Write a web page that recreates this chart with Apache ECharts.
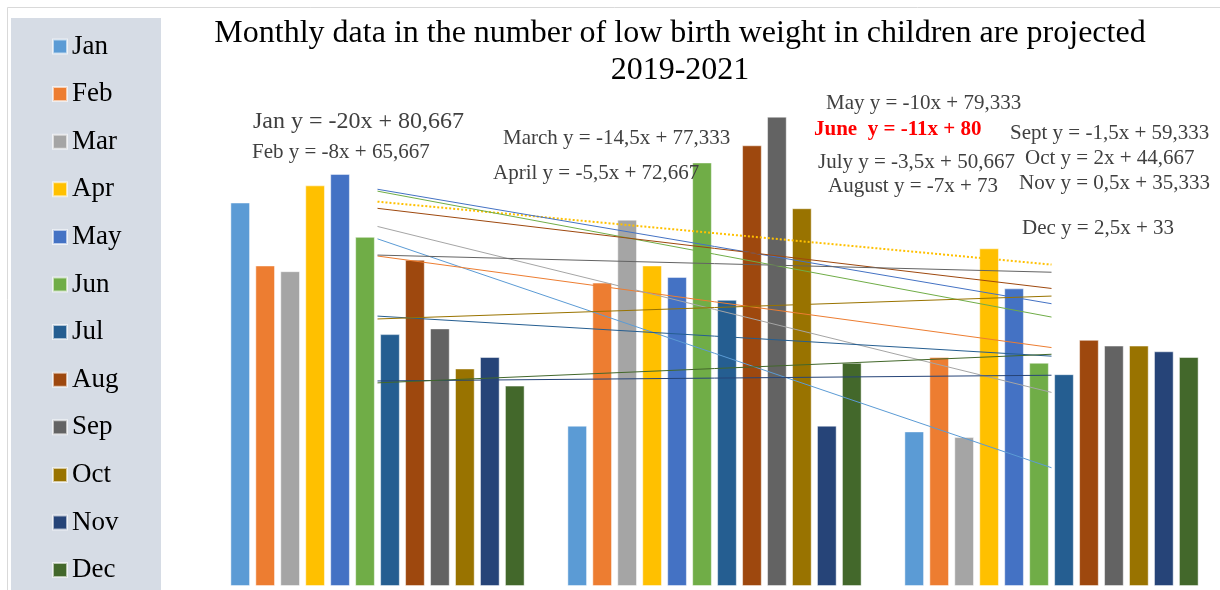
<!DOCTYPE html>
<html>
<head>
<meta charset="utf-8">
<script src="https://cdn.jsdelivr.net/npm/echarts@6/dist/echarts.min.js"></script>
<style>
html,body{margin:0;padding:0;background:#fff;}
#chart{width:1220px;height:590px;}
</style>
</head>
<body>
<div id="chart"></div>
<script>
const years = ['2019', '2020', '2021'];
const months = ['Jan','Feb','Mar','Apr','May','Jun','Jul','Aug','Sep','Oct','Nov','Dec'];
const colors = ['#5B9BD5','#ED7D31','#A5A5A5','#FFC000','#4472C4','#70AD47','#255E91','#9E480E','#636363','#997300','#264478','#43682B'];
// values per month for 2019, 2020, 2021
const janVals = [67, 28, 27];
const febVals = [56, 53, 40];
const marVals = [55, 64, 26];
const aprVals = [70, 56, 59];
const mayVals = [72, 54, 52];
const junVals = [61, 74, 39];
const julVals = [44, 50, 37];
const augVals = [57, 77, 43];
const sepVals = [45, 82, 42];
const octVals = [38, 66, 42];
const novVals = [40, 28, 41];
const decVals = [35, 39, 40];
const monthValues = [janVals, febVals, marVals, aprVals, mayVals, junVals, julVals, augVals, sepVals, octVals, novVals, decVals];
// trend line coefficients shown on the chart (y = slope*x + intercept)
const slopes = [-20, -8, -14.5, -5.5, -10, -11, -3.5, -7, -1.5, 2, 0.5, 2.5];
const intercepts = [80.667, 65.667, 77.333, 72.667, 79.333, 80, 50.667, 73, 59.333, 44.667, 35.333, 33];
const equationLabels = [
  'Jan y = -20x + 80,667', 'Feb y = -8x + 65,667', 'March y = -14,5x + 77,333', 'April y = -5,5x + 72,667',
  'May y = -10x + 79,333', 'June  y = -11x + 80', 'July y = -3,5x + 50,667', 'August y = -7x + 73',
  'Sept y = -1,5x + 59,333', 'Oct y = 2x + 44,667', 'Nov y = 0,5x + 35,333', 'Dec y = 2,5x + 33'
];
const titleLines = ['Monthly data in the number of low birth weight in children are projected', '2019-2021'];

const labelPos = [
  [253,122,24],[252,152,21],[503,138,21],[493,173,21],[826,103,21],[814,130,21],
  [818,162,21],[828,186,21],[1010,133,21],[1025,158,21],[1019,183,21],[1022,228,21]
];

const series = [];
months.forEach((m, i) => {
  series.push({
    name: m, type: 'bar', data: monthValues[i], barWidth: 19.5, barGap: '28%',
    itemStyle: { color: colors[i], borderColor: 'rgba(255,255,255,0.6)', borderWidth: 0.8 },
    silent: true
  });
});
months.forEach((m, i) => {
  const trend = years.map((y, k) => slopes[i] * (k + 1) + intercepts[i]);
  series.push({
    name: m + ' trend', type: 'line', data: trend, symbol: 'none', silent: true, z: 5,
    lineStyle: { color: colors[i], width: i === 3 ? 2 : 1, type: i === 3 ? 'dotted' : 'solid' }
  });
});

const graphics = [
  { type: 'rect', z: -10, shape: { x: 7.5, y: 7.5, width: 1230, height: 600 }, style: { fill: '#fff', stroke: '#D9D9D9', lineWidth: 1 } },
  { type: 'rect', z: -9, shape: { x: 11, y: 18, width: 150, height: 580 }, style: { fill: '#D6DCE5' } },
  { type: 'text', x: 680, y: 34, style: { text: titleLines[0], font: '32px "Liberation Serif"', fill: '#000', align: 'center', verticalAlign: 'middle' } },
  { type: 'text', x: 680, y: 71, style: { text: titleLines[1], font: '32px "Liberation Serif"', fill: '#000', align: 'center', verticalAlign: 'middle' } }
];
equationLabels.forEach((t, i) => {
  const p = labelPos[i];
  const isJune = i === 5;
  graphics.push({ type: 'text', x: p[0], y: p[1], z: 10, style: {
    text: t, font: (isJune ? 'bold ' : '') + p[2] + 'px "Liberation Serif"', fill: isJune ? '#FF0000' : '#404040',
    align: 'left', verticalAlign: 'middle' } });
});

const chart = echarts.init(document.getElementById('chart'), null, { renderer: 'canvas' });
chart.setOption({
  animation: false,
  grid: { left: 209, top: 71, width: 1014, height: 515 },
  xAxis: { type: 'category', data: years, show: false },
  yAxis: { type: 'value', min: 0, max: 90, show: false },
  legend: {
    data: months, orient: 'vertical', left: 47, top: 28, itemGap: 20.6,
    icon: 'rect', itemWidth: 14, itemHeight: 14,
    textStyle: { fontFamily: 'Liberation Serif', fontSize: 27, color: '#000', lineHeight: 27 }
  },
  graphic: graphics,
  series: series
});
</script>
</body>
</html>
